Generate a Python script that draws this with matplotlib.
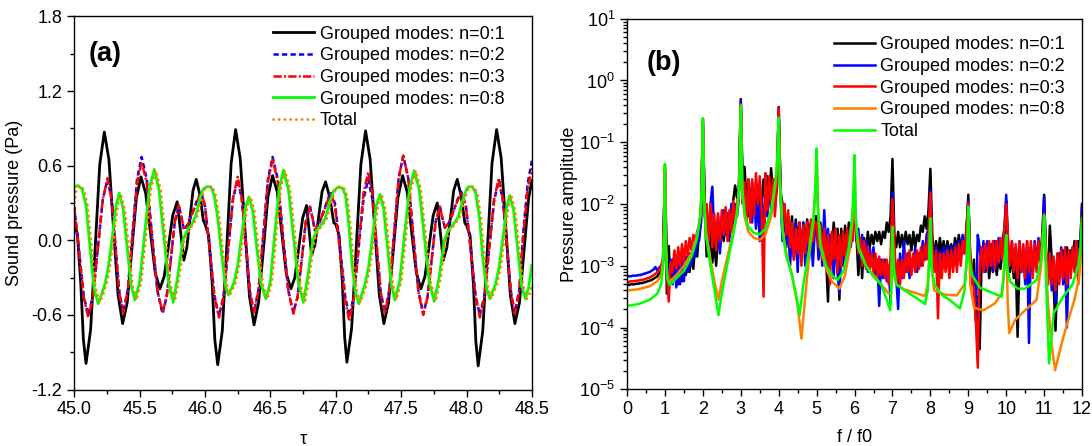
import numpy as np
import matplotlib
matplotlib.use("Agg")
import matplotlib.pyplot as plt
from matplotlib.ticker import MultipleLocator, LogLocator, NullFormatter, FormatStrFormatter

plt.rcParams['font.family'] = ['Liberation Sans', 'DejaVu Sans']
plt.rcParams['mathtext.default'] = 'regular'
plt.rcParams['axes.unicode_minus'] = False

# ---------------- Panel (a): time signals ----------------
tau_n01 = [45.000, 45.025, 45.050, 45.070, 45.090, 45.125, 45.160, 45.195, 45.230, 45.265, 45.300, 45.335, 45.370, 45.405, 45.440, 45.475, 45.510, 45.546, 45.583, 45.619, 45.655, 45.688, 45.720, 45.753, 45.787, 45.812, 45.838, 45.861, 45.884, 45.908, 45.933, 45.962, 45.987,
           46.000, 46.028, 46.055, 46.075, 46.097, 46.132, 46.166, 46.200, 46.234, 46.269, 46.305, 46.340, 46.375, 46.410, 46.446, 46.481, 46.517, 46.552, 46.587, 46.622, 46.657, 46.687, 46.717, 46.747, 46.777, 46.796, 46.815, 46.842, 46.868, 46.895, 46.922, 46.955, 46.985,
           47.000, 47.025, 47.050, 47.068, 47.085, 47.121, 47.157, 47.192, 47.228, 47.263, 47.298, 47.333, 47.368, 47.404, 47.440, 47.475, 47.511, 47.546, 47.581, 47.616, 47.651, 47.682, 47.713, 47.745, 47.776, 47.799, 47.822, 47.849, 47.876, 47.902, 47.929, 47.960, 47.987,
           48.000, 48.027, 48.053, 48.071, 48.089, 48.124, 48.160, 48.195, 48.230, 48.265, 48.300, 48.335, 48.370, 48.405, 48.440, 48.475, 48.500]
p_n01 = [0.15, 0.04, -0.35, -0.80, -0.99, -0.72, -0.06, 0.61, 0.87, 0.65, 0.10, -0.44, -0.67, -0.50, -0.08, 0.34, 0.51, 0.38, 0.06, -0.26, -0.39, -0.29, -0.05, 0.20, 0.31, 0.08, -0.16, -0.06, 0.17, 0.40, 0.49, 0.36, 0.16,
         0.13, 0.04, -0.35, -0.80, -1.00, -0.73, -0.06, 0.62, 0.89, 0.66, 0.10, -0.45, -0.68, -0.50, -0.08, 0.35, 0.52, 0.39, 0.06, -0.27, -0.39, -0.30, -0.06, 0.18, 0.28, 0.08, -0.12, -0.03, 0.18, 0.39, 0.47, 0.34, 0.14,
         0.13, 0.04, -0.33, -0.78, -0.98, -0.71, -0.05, 0.61, 0.88, 0.65, 0.10, -0.44, -0.67, -0.50, -0.08, 0.34, 0.52, 0.39, 0.06, -0.26, -0.39, -0.29, -0.05, 0.20, 0.30, 0.07, -0.16, -0.06, 0.17, 0.40, 0.49, 0.35, 0.14,
         0.12, 0.04, -0.36, -0.81, -1.01, -0.73, -0.06, 0.62, 0.89, 0.66, 0.11, -0.44, -0.67, -0.50, -0.08, 0.34, 0.48]

tau_n02 = [45.000, 45.038, 45.073, 45.107, 45.144, 45.181, 45.218, 45.255, 45.285, 45.315, 45.345, 45.375, 45.410, 45.445, 45.480, 45.515, 45.555, 45.595, 45.635, 45.675, 45.706, 45.738, 45.769, 45.800, 45.820, 45.840, 45.870, 45.900, 45.935, 45.970,
           46.000, 46.038, 46.073, 46.107, 46.143, 46.178, 46.214, 46.250, 46.281, 46.313, 46.344, 46.375, 46.410, 46.446, 46.481, 46.517, 46.557, 46.596, 46.636, 46.675, 46.707, 46.739, 46.771, 46.803, 46.822, 46.840, 46.870, 46.900, 46.932, 46.963,
           46.995, 47.035, 47.072, 47.103, 47.139, 47.175, 47.212, 47.248, 47.280, 47.312, 47.344, 47.376, 47.411, 47.446, 47.481, 47.516, 47.554, 47.592, 47.631, 47.669, 47.701, 47.733, 47.764, 47.796, 47.815, 47.835, 47.865, 47.895, 47.928, 47.960,
           47.995, 48.035, 48.070, 48.102, 48.138, 48.175, 48.211, 48.247, 48.278, 48.309, 48.340, 48.370, 48.403, 48.435, 48.468, 48.500]
p_n02 = [0.27, -0.10, -0.45, -0.60, -0.44, -0.06, 0.33, 0.49, 0.33, -0.04, -0.42, -0.58, -0.39, 0.05, 0.49, 0.67, 0.49, 0.04, -0.40, -0.59, -0.46, -0.16, 0.15, 0.28, 0.18, 0.08, 0.13, 0.21, 0.31, 0.39,
         0.27, -0.10, -0.45, -0.61, -0.44, -0.06, 0.33, 0.49, 0.33, -0.04, -0.42, -0.58, -0.39, 0.05, 0.49, 0.67, 0.49, 0.04, -0.40, -0.58, -0.46, -0.16, 0.15, 0.27, 0.18, 0.08, 0.13, 0.21, 0.31, 0.39,
         0.29, -0.08, -0.45, -0.61, -0.45, -0.06, 0.33, 0.49, 0.33, -0.04, -0.42, -0.58, -0.39, 0.05, 0.50, 0.68, 0.50, 0.05, -0.40, -0.59, -0.46, -0.16, 0.15, 0.27, 0.18, 0.10, 0.14, 0.22, 0.32, 0.39,
         0.28, -0.10, -0.45, -0.60, -0.44, -0.05, 0.32, 0.48, 0.32, -0.05, -0.42, -0.58, -0.40, 0.08, 0.46, 0.64]

tau_n03 = tau_n02
p_n03 = [0.27, -0.10, -0.46, -0.62, -0.45, -0.06, 0.33, 0.50, 0.33, -0.05, -0.43, -0.58, -0.40, 0.03, 0.46, 0.63, 0.46, 0.03, -0.40, -0.58, -0.46, -0.16, 0.15, 0.28, 0.18, 0.09, 0.13, 0.21, 0.30, 0.38,
         0.28, -0.10, -0.46, -0.62, -0.45, -0.06, 0.34, 0.51, 0.34, -0.04, -0.42, -0.58, -0.40, 0.04, 0.47, 0.65, 0.47, 0.03, -0.40, -0.59, -0.46, -0.16, 0.15, 0.27, 0.18, 0.08, 0.13, 0.21, 0.30, 0.38,
         0.27, -0.12, -0.48, -0.65, -0.46, -0.04, 0.38, 0.55, 0.37, -0.03, -0.42, -0.59, -0.40, 0.06, 0.50, 0.68, 0.50, 0.05, -0.41, -0.60, -0.46, -0.16, 0.15, 0.27, 0.18, 0.10, 0.14, 0.22, 0.31, 0.38,
         0.27, -0.10, -0.46, -0.62, -0.45, -0.05, 0.33, 0.50, 0.33, -0.05, -0.43, -0.59, -0.41, 0.05, 0.42, 0.58]

tau_n08 = [45.000, 45.030, 45.060, 45.090, 45.120, 45.150, 45.183, 45.210, 45.235, 45.260, 45.290, 45.320, 45.344, 45.374, 45.404, 45.434, 45.464, 45.501, 45.538, 45.575, 45.612, 45.648, 45.685, 45.721, 45.757, 45.790, 45.830, 45.870, 45.900, 45.930, 45.960, 45.985,
           46.010, 46.045, 46.070, 46.100, 46.130, 46.155, 46.178, 46.200, 46.222, 46.250, 46.280, 46.310, 46.336, 46.366, 46.396, 46.431, 46.466, 46.500, 46.533, 46.567, 46.600, 46.638, 46.676, 46.714, 46.752, 46.785, 46.825, 46.854, 46.885, 46.917, 46.950, 46.985,
           47.020, 47.050, 47.075, 47.100, 47.125, 47.150, 47.177, 47.200, 47.222, 47.250, 47.280, 47.310, 47.338, 47.367, 47.395, 47.424, 47.452, 47.489, 47.526, 47.563, 47.600, 47.638, 47.677, 47.715, 47.753, 47.790, 47.830, 47.860, 47.900, 47.937, 47.970, 48.000,
           48.013, 48.045, 48.070, 48.100, 48.125, 48.152, 48.178, 48.200, 48.222, 48.250, 48.280, 48.308, 48.330, 48.360, 48.390, 48.420, 48.450, 48.475, 48.500]
p_n08 = [0.43, 0.44, 0.41, 0.28, -0.05, -0.38, -0.51, -0.43, -0.35, -0.22, 0.02, 0.28, 0.38, 0.25, -0.05, -0.36, -0.48, -0.33, 0.05, 0.42, 0.57, 0.41, 0.03, -0.34, -0.50, -0.30, 0.00, 0.09, 0.13, 0.20, 0.33, 0.41,
         0.43, 0.43, 0.36, 0.16, -0.14, -0.36, -0.44, -0.39, -0.34, -0.20, 0.04, 0.27, 0.35, 0.23, -0.06, -0.36, -0.47, -0.33, 0.05, 0.41, 0.565, 0.41, 0.03, -0.34, -0.50, -0.30, 0.00, 0.08, 0.12, 0.17, 0.29, 0.40,
         0.43, 0.42, 0.36, 0.12, -0.20, -0.42, -0.51, -0.43, -0.36, -0.22, 0.02, 0.28, 0.37, 0.25, -0.05, -0.35, -0.48, -0.33, 0.05, 0.41, 0.56, 0.41, 0.03, -0.34, -0.49, -0.30, 0.00, 0.08, 0.13, 0.19, 0.32, 0.41,
         0.43, 0.43, 0.38, 0.17, -0.15, -0.38, -0.47, -0.41, -0.35, -0.21, 0.03, 0.27, 0.36, 0.24, -0.06, -0.36, -0.47, -0.38, -0.20]

tau_total = [45.000, 45.015, 45.042, 45.072, 45.102, 45.132, 45.162, 45.195, 45.222, 45.247, 45.272, 45.302, 45.332, 45.356, 45.386, 45.416, 45.446, 45.476, 45.513, 45.550, 45.587, 45.624, 45.660, 45.697, 45.733, 45.769, 45.802, 45.842, 45.882, 45.912, 45.942, 45.972, 45.997,
             46.022, 46.057, 46.082, 46.112, 46.142, 46.167, 46.190, 46.212, 46.234, 46.262, 46.292, 46.322, 46.348, 46.378, 46.408, 46.443, 46.478, 46.512, 46.545, 46.579, 46.612, 46.650, 46.688, 46.726, 46.764, 46.797, 46.837, 46.866, 46.897, 46.929, 46.962, 46.997,
             47.032, 47.062, 47.087, 47.112, 47.137, 47.162, 47.189, 47.212, 47.234, 47.262, 47.292, 47.322, 47.350, 47.379, 47.407, 47.436, 47.464, 47.501, 47.538, 47.575, 47.612, 47.650, 47.689, 47.727, 47.765, 47.802, 47.842, 47.872, 47.912, 47.949, 47.982, 48.012,
             48.025, 48.057, 48.082, 48.112, 48.137, 48.164, 48.190, 48.212, 48.234, 48.262, 48.292, 48.320, 48.342, 48.372, 48.402, 48.432, 48.462, 48.487, 48.500]
p_total = [0.30, 0.40, 0.44, 0.41, 0.28, -0.05, -0.38, -0.50, -0.43, -0.35, -0.22, 0.02, 0.28, 0.37, 0.25, -0.05, -0.36, -0.48, -0.33, 0.05, 0.42, 0.56, 0.41, 0.03, -0.34, -0.49, -0.30, 0.00, 0.09, 0.13, 0.20, 0.33, 0.41,
           0.43, 0.43, 0.36, 0.16, -0.14, -0.36, -0.44, -0.39, -0.34, -0.20, 0.04, 0.27, 0.35, 0.23, -0.06, -0.36, -0.47, -0.33, 0.05, 0.41, 0.56, 0.41, 0.03, -0.34, -0.50, -0.30, 0.00, 0.08, 0.12, 0.17, 0.29, 0.40,
           0.43, 0.42, 0.36, 0.12, -0.20, -0.42, -0.50, -0.43, -0.36, -0.22, 0.02, 0.28, 0.37, 0.25, -0.05, -0.35, -0.48, -0.33, 0.05, 0.41, 0.56, 0.41, 0.03, -0.34, -0.49, -0.30, 0.00, 0.08, 0.13, 0.19, 0.32, 0.41,
           0.43, 0.43, 0.38, 0.17, -0.15, -0.38, -0.47, -0.41, -0.35, -0.21, 0.03, 0.27, 0.36, 0.24, -0.06, -0.36, -0.47, -0.42, -0.36]

labels_a = ["Grouped modes: n=0:1", "Grouped modes: n=0:2", "Grouped modes: n=0:3",
            "Grouped modes: n=0:8", "Total"]

# ---------------- Panel (b): spectra (log10 of amplitude) ----------------
f_step = 0.05  # sampling step of the noisy spectra, f/f0 = 0 ... 12
lg_n01 = [
    -3.31, -3.31, -3.30, -3.30, -3.30, -3.29, -3.29, -3.28, -3.28, -3.27, -3.26, -3.25, -3.24, -3.23, -3.21, -3.19, -3.17, -3.12, -3.05, -2.95,
    -1.40, -3.45, -2.68, -3.30, -2.90, -3.20, -2.95, -3.30, -2.95, -3.25, -2.85, -3.15, -2.85, -3.10, -2.80, -3.05, -2.60, -2.85, -2.45, -2.30,
    -0.62, -2.10, -2.85, -2.30, -2.55, -2.95, -2.60, -3.00, -2.50, -2.70, -2.30, -2.60, -2.20, -2.45, -2.15, -2.30, -1.95, -1.70, -1.90, -1.75,
    -0.30, -1.70, -1.40, -2.00, -1.60, -2.10, -1.65, -2.10, -1.75, -2.20, -1.80, -2.00, -1.60, -1.95, -1.55, -1.90, -1.42, -1.85, -1.60, -1.80,
    -0.43, -1.80, -2.00, -2.30, -2.50, -2.20, -2.60, -2.20, -2.80, -2.25, -2.60, -2.30, -2.90, -2.30, -2.70, -2.25, -2.55, -2.30, -2.60, -2.20,
    -2.20, -2.50, -2.30, -2.70, -2.30, -2.90, -3.58, -2.50, -2.80, -2.30, -2.70, -2.40, -3.55, -2.40, -2.90, -2.35, -2.70, -2.30, -2.60, -2.20,
    -2.00, -2.50, -3.15, -2.60, -3.20, -2.55, -2.80, -2.45, -2.70, -2.50, -2.65, -2.45, -2.60, -2.45, -2.65, -2.45, -2.55, -2.30, -2.45, -2.20,
    -1.27, -2.50, -2.70, -2.45, -2.70, -2.50, -2.70, -2.45, -2.65, -2.50, -2.75, -2.45, -2.70, -2.50, -2.60, -2.35, -2.45, -2.20, -2.40, -2.10,
    -1.43, -2.50, -2.90, -2.60, -2.85, -2.55, -2.80, -2.60, -2.85, -2.60, -2.80, -2.65, -2.85, -2.55, -2.75, -2.50, -2.70, -2.55, -2.75, -2.50,
    -1.85, -2.90, -3.30, -2.90, -3.90, -3.50, -4.35, -2.90, -2.75, -3.10, -2.80, -3.20, -2.85, -3.10, -2.80, -3.15, -2.85, -3.05, -2.75, -2.60,
    -1.95, -2.80, -3.10, -2.80, -3.20, -2.90, -4.15, -2.90, -3.10, -2.80, -3.05, -2.75, -3.00, -2.80, -3.05, -2.75, -2.95, -2.70, -2.90, -2.60,
    -1.85, -2.90, -3.20, -2.35, -2.90, -3.30, -4.05, -3.00, -2.80, -3.00, -2.75, -2.95, -2.70, -2.90, -2.75, -2.85, -2.60, -2.90, -2.60, -2.70,
    -2.00]
lg_n02 = [
    -3.17, -3.17, -3.17, -3.16, -3.16, -3.16, -3.15, -3.15, -3.14, -3.13, -3.12, -3.11, -3.10, -3.08, -3.06, -3.02, -3.08, -3.03, -3.00, -2.90,
    -1.50, -3.00, -3.20, -2.90, -3.30, -3.00, -3.35, -2.95, -3.30, -2.90, -3.25, -2.85, -3.10, -2.80, -3.00, -2.75, -2.85, -2.60, -2.60, -2.30,
    -0.70, -2.00, -2.30, -2.70, -2.00, -1.72, -2.50, -2.60, -2.20, -2.80, -2.30, -2.10, -2.50, -2.15, -2.60, -2.00, -2.40, -2.00, -2.20, -1.90,
    -0.33, -1.80, -2.10, -1.80, -2.20, -1.90, -2.30, -1.80, -2.40, -1.90, -2.60, -1.90, -2.40, -1.80, -2.20, -1.70, -2.10, -1.70, -2.00, -1.75,
    -0.46, -1.90, -2.60, -2.00, -2.70, -2.30, -3.00, -2.40, -2.90, -2.30, -3.10, -2.40, -2.80, -2.30, -3.00, -2.40, -2.90, -2.40, -3.00, -2.45,
    -2.35, -2.90, -2.50, -3.00, -2.10, -2.70, -2.40, -3.00, -2.50, -3.20, -2.50, -3.10, -3.45, -2.60, -3.00, -2.50, -2.85, -2.45, -2.70, -2.35,
    -2.10, -2.60, -2.40, -2.90, -2.50, -3.00, -2.60, -3.10, -2.70, -3.00, -2.70, -3.20, -2.90, -3.65, -2.90, -3.20, -2.90, -3.25, -3.00, -3.60,
    -1.82, -2.90, -3.20, -3.70, -2.80, -3.20, -2.60, -3.10, -2.80, -3.20, -2.90, -3.00, -2.70, -3.10, -2.80, -3.00, -2.60, -2.90, -2.50, -2.40,
    -1.77, -2.80, -3.10, -2.70, -3.30, -2.75, -3.10, -2.70, -3.00, -2.70, -3.10, -2.70, -3.00, -2.65, -3.00, -2.60, -2.90, -2.50, -2.80, -2.40,
    -1.95, -2.90, -3.30, -3.10, -3.80, -2.50, -2.70, -3.00, -2.60, -3.10, -2.60, -3.00, -2.65, -3.10, -2.60, -3.00, -2.55, -2.90, -2.60, -2.40,
    -1.85, -2.70, -3.00, -2.60, -3.10, -2.70, -3.20, -2.60, -3.10, -2.70, -3.30, -2.60, -4.25, -2.70, -3.10, -2.60, -3.00, -2.55, -2.90, -2.50,
    -1.88, -2.90, -3.30, -2.80, -3.40, -2.90, -3.60, -2.80, -3.20, -2.70, -3.30, -2.80, -4.00, -2.80, -3.10, -2.70, -3.00, -2.60, -3.10, -2.70,
    -2.00]
lg_n03 = [
    -3.26, -3.26, -3.25, -3.25, -3.25, -3.24, -3.24, -3.23, -3.23, -3.22, -3.21, -3.20, -3.19, -3.17, -3.15, -3.13, -3.10, -3.07, -3.02, -2.90,
    -1.45, -3.10, -3.58, -2.95, -3.10, -2.75, -3.05, -2.70, -3.00, -2.65, -2.95, -2.60, -2.85, -2.55, -2.75, -2.50, -2.60, -2.45, -2.35, -2.10,
    -0.65, -2.20, -2.00, -2.60, -2.00, -2.70, -2.15, -2.75, -2.15, -2.60, -2.10, -2.50, -2.05, -2.60, -2.10, -2.45, -1.95, -2.30, -2.00, -1.80,
    -0.38, -2.00, -1.65, -2.30, -1.60, -2.30, -1.60, -2.20, -1.50, -2.00, -1.55, -2.10, -3.50, -1.50, -2.10, -1.55, -2.00, -1.60, -2.20, -1.70,
    -0.45, -1.85, -2.20, -2.00, -2.50, -2.10, -2.70, -2.30, -2.90, -2.40, -2.80, -2.30, -3.00, -2.35, -2.80, -2.30, -2.70, -2.25, -2.60, -2.30,
    -2.30, -2.70, -2.35, -2.90, -2.40, -3.00, -2.50, -3.30, -2.45, -2.90, -2.40, -3.10, -2.50, -3.00, -2.45, -2.85, -2.40, -2.80, -2.35, -2.60,
    -2.05, -2.50, -2.80, -2.55, -3.00, -2.60, -3.05, -2.70, -3.10, -2.80, -3.10, -2.80, -3.20, -2.85, -3.15, -2.90, -3.20, -2.90, -3.30, -2.85,
    -1.92, -2.60, -3.30, -2.90, -3.30, -2.90, -3.20, -2.80, -3.10, -2.75, -3.15, -2.80, -3.10, -2.75, -3.05, -2.70, -3.00, -2.65, -2.90, -2.50,
    -1.82, -2.70, -3.10, -2.75, -3.85, -2.80, -3.20, -2.80, -3.10, -2.75, -3.20, -2.75, -3.10, -2.70, -3.10, -2.65, -3.00, -2.60, -2.80, -2.40,
    -1.98, -2.80, -3.10, -3.40, -3.90, -4.65, -3.00, -2.70, -3.10, -2.65, -3.05, -2.60, -3.00, -2.60, -3.05, -2.60, -2.95, -2.55, -2.90, -2.40,
    -2.00, -2.60, -3.00, -2.60, -3.10, -2.65, -3.20, -2.60, -3.10, -2.65, -3.20, -2.60, -3.10, -2.60, -3.20, -2.65, -3.10, -2.60, -3.00, -2.50,
    -2.15, -2.80, -3.30, -2.80, -3.30, -2.85, -3.40, -2.80, -3.30, -2.75, -3.20, -2.70, -3.30, -2.75, -3.20, -2.70, -3.10, -2.60, -3.30, -2.80,
    -2.20]

f_n08 = [0, 0.3, 0.6, 0.8, 0.9, 0.95, 0.98, 1.0, 1.02, 1.06, 1.1, 1.3, 1.5, 1.7, 1.85, 1.93, 1.97, 2.0, 2.03, 2.08, 2.2, 2.32, 2.41, 2.5, 2.65, 2.8, 2.9, 2.96,
         3.0, 3.04, 3.1, 3.2, 3.35, 3.5, 3.65, 3.8, 3.92, 3.97, 4.0, 4.03, 4.1, 4.2, 4.35, 4.5, 4.6, 4.7, 4.8, 4.92, 4.97, 5.0, 5.03, 5.1, 5.25, 5.4, 5.6, 5.75, 5.88, 5.95, 5.98,
         6.0, 6.03, 6.1, 6.3, 6.5, 6.7, 6.9, 6.96, 7.0, 7.03, 7.1, 7.3, 7.5, 7.86, 7.93, 7.97, 8.0, 8.03, 8.1, 8.4, 8.7, 8.9, 8.95, 8.98,
         9.0, 9.05, 9.15, 9.4, 9.7, 9.88, 9.94, 9.97, 10.0, 10.04, 10.08, 10.23, 10.5, 10.8, 10.92, 10.97, 11.0, 11.1, 11.2, 11.29, 11.46, 11.6, 11.8, 11.92, 11.97, 12.0]
lg_n08 = [-3.40, -3.38, -3.33, -3.25, -3.15, -2.95, -2.40, -1.36, -2.60, -3.15, -3.27, -3.15, -3.00, -2.80, -2.50, -2.20, -1.80, -0.62, -1.90, -2.45, -2.90, -3.30, -3.55, -3.25, -2.85, -2.45, -2.15, -1.70,
          -0.41, -1.80, -2.20, -2.45, -2.55, -2.58, -2.50, -2.20, -1.65, -1.25, -0.62, -1.60, -2.40, -2.80, -3.15, -3.65, -4.18, -3.50, -2.85, -2.25, -1.75, -1.12, -2.05, -2.70, -3.05, -3.25, -3.37, -3.15, -2.70, -2.20, -1.75,
          -1.23, -2.25, -2.70, -3.00, -3.15, -3.30, -3.45, -3.45, -2.45, -3.10, -3.30, -3.38, -3.42, -3.49, -3.30, -2.90, -2.25, -3.00, -3.40, -3.47, -3.48, -3.30, -3.00, -2.60,
          -2.05, -3.30, -3.68, -3.72, -3.61, -3.45, -3.10, -2.80, -2.52, -3.60, -4.09, -3.88, -3.72, -3.55, -3.00, -2.55, -2.20, -3.60, -4.30, -4.69, -4.26, -3.95, -3.55, -3.20, -2.80, -2.30]

f_total = [0, 0.3, 0.6, 0.8, 0.9, 0.95, 0.98, 1.0, 1.02, 1.06, 1.13, 1.3, 1.5, 1.7, 1.85, 1.93, 1.97, 2.0, 2.03, 2.08, 2.2, 2.32, 2.41, 2.5, 2.65, 2.8, 2.9, 2.96,
           3.0, 3.04, 3.1, 3.2, 3.35, 3.5, 3.65, 3.8, 3.92, 3.97, 4.0, 4.03, 4.1, 4.2, 4.35, 4.5, 4.55, 4.65, 4.8, 4.92, 4.97, 5.0, 5.03, 5.1, 5.25, 5.4, 5.55, 5.7, 5.85, 5.94, 5.98,
           6.0, 6.03, 6.1, 6.3, 6.5, 6.7, 6.85, 6.94, 6.97, 7.0, 7.03, 7.1, 7.3, 7.5, 7.7, 7.86, 7.93, 7.97, 8.0, 8.03, 8.1, 8.3, 8.5, 8.78, 8.9, 8.95, 8.98,
           9.0, 9.03, 9.1, 9.3, 9.6, 9.88, 9.93, 9.97, 10.0, 10.03, 10.1, 10.3, 10.5, 10.8, 10.92, 10.97, 11.0, 11.05, 11.1, 11.13, 11.25, 11.5, 11.75, 11.9, 11.96, 12.0]
lg_total = [-3.65, -3.62, -3.55, -3.45, -3.30, -3.00, -2.40, -1.35, -2.60, -3.20, -3.31, -3.20, -3.08, -2.85, -2.55, -2.20, -1.80, -0.61, -1.90, -2.50, -3.00, -3.45, -3.80, -3.45, -2.95, -2.50, -2.15, -1.70,
            -0.40, -1.75, -2.15, -2.37, -2.47, -2.49, -2.40, -2.10, -1.60, -1.20, -0.60, -1.60, -2.45, -2.85, -3.15, -3.60, -3.80, -3.30, -2.75, -2.20, -1.70, -1.10, -2.00, -2.65, -3.00, -3.15, -3.23, -3.10, -2.70, -2.20, -1.70,
            -1.21, -2.20, -2.70, -3.00, -3.18, -3.30, -3.55, -3.72, -3.40, -2.37, -3.00, -3.30, -3.39, -3.47, -3.55, -3.62, -3.40, -2.90, -2.23, -3.00, -3.30, -3.47, -3.55, -3.69, -3.40, -3.00, -2.60,
            -2.04, -2.90, -3.15, -3.35, -3.43, -3.50, -3.20, -2.80, -2.50, -3.05, -3.25, -3.37, -3.37, -3.23, -2.90, -2.50, -2.18, -3.20, -4.10, -4.58, -3.77, -3.50, -3.30, -3.00, -2.70, -2.23]

labels_b = ["Grouped modes: n=0:1", "Grouped modes: n=0:2", "Grouped modes: n=0:3",
            "Grouped modes: n=0:8", "Total"]

# ---------------- Figure ----------------
FS = 13
fig = plt.figure(figsize=(10.92, 4.46), dpi=100)
axa = fig.add_axes([0.0680, 0.1265, 0.4191, 0.8368])
axb = fig.add_axes([0.5742, 0.1271, 0.4167, 0.8309])

axa.plot(tau_n01, p_n01, color='black', lw=2.0, solid_joinstyle='round', label=labels_a[0])
axa.plot(tau_n02, p_n02, color='#0000FF', lw=1.8, ls=(0, (2.1, 1.3)), label=labels_a[1])
axa.plot(tau_n03, p_n03, color='#FF0000', lw=1.8, ls=(0, (3.3, 0.9, 0.8, 0.9)), label=labels_a[2])
axa.plot(tau_n08, p_n08, color='#00FF00', lw=2.0, solid_joinstyle='round', label=labels_a[3])
axa.plot(tau_total, p_total, color='#FF8000', lw=2.1, ls=(0, (0.01, 1.95)), dash_capstyle='round', label=labels_a[4])

axa.set_xlim(45.0, 48.5)
axa.set_ylim(-1.2, 1.8)
axa.xaxis.set_major_locator(MultipleLocator(0.5))
axa.xaxis.set_minor_locator(MultipleLocator(0.25))
axa.yaxis.set_major_locator(MultipleLocator(0.6))
axa.yaxis.set_minor_locator(MultipleLocator(0.3))
axa.xaxis.set_major_formatter(FormatStrFormatter('%.1f'))
axa.yaxis.set_major_formatter(FormatStrFormatter('%.1f'))
axa.set_xlabel('τ', fontsize=FS, labelpad=9)
axa.set_ylabel('Sound pressure (Pa)', fontsize=FS, labelpad=6)
axa.text(0.032, 0.898, '(a)', transform=axa.transAxes, fontsize=19.5, fontweight='bold', va='center', ha='left')
axa.legend(loc='upper left', bbox_to_anchor=(0.435, 0.975), frameon=False, fontsize=FS,
           handlelength=2.25, handletextpad=0.32, labelspacing=0.26, borderpad=0.0, borderaxespad=0.0)

fgrid = np.arange(len(lg_n01)) * f_step
axb.semilogy(fgrid, 10.0 ** np.array(lg_n01), color='black', lw=1.8, label=labels_b[0])
axb.semilogy(fgrid, 10.0 ** np.array(lg_n02), color='#0000FF', lw=1.8, label=labels_b[1])
axb.semilogy(fgrid, 10.0 ** np.array(lg_n03), color='#FF0000', lw=1.8, label=labels_b[2])
axb.semilogy(f_n08, 10.0 ** np.array(lg_n08), color='#FF8000', lw=1.8, label=labels_b[3])
axb.semilogy(f_total, 10.0 ** np.array(lg_total), color='#00FF00', lw=1.8, label=labels_b[4])

axb.set_xlim(0, 12)
axb.set_ylim(1e-5, 10)
axb.xaxis.set_major_locator(MultipleLocator(1))
axb.xaxis.set_minor_locator(MultipleLocator(0.5))
axb.yaxis.set_major_locator(LogLocator(base=10, numticks=10))
axb.yaxis.set_minor_locator(LogLocator(base=10, subs=np.arange(2, 10), numticks=20))
axb.yaxis.set_minor_formatter(NullFormatter())
axb.set_xlabel('f / f0', fontsize=FS, labelpad=8)
axb.set_ylabel('Pressure amplitude', fontsize=FS, labelpad=1)
axb.text(0.044, 0.88, '(b)', transform=axb.transAxes, fontsize=19.5, fontweight='bold', va='center', ha='left')
axb.legend(loc='upper left', bbox_to_anchor=(0.455, 0.953), frameon=False, fontsize=FS,
           handlelength=2.25, handletextpad=0.32, labelspacing=0.26, borderpad=0.0, borderaxespad=0.0)

for ax in (axa, axb):
    ax.tick_params(which='both', direction='out', top=False, right=False, labelsize=FS, width=1.0)
    ax.tick_params(which='major', length=5)
    ax.tick_params(which='minor', length=3)
    for s in ax.spines.values():
        s.set_linewidth(1.0)

fig.savefig('out.png', dpi=100)
